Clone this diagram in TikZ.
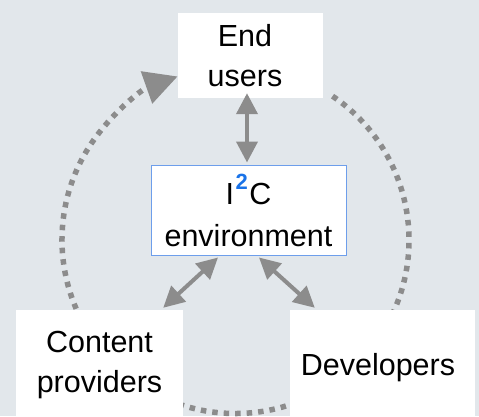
\documentclass[tikz,border=0pt]{standalone}
\usepackage{fontspec}
\setmainfont{Liberation Sans}
\usepackage{xcolor}
\usepackage{tikz}
\usetikzlibrary{arrows.meta}

\definecolor{bgslate}{HTML}{E2E7EB}
\definecolor{linkgray}{HTML}{8C8C8C}
\definecolor{envblue}{HTML}{6D9EEB}
\definecolor{supblue}{HTML}{1A73E8}
\newcommand{\rpad}[1]{\hbox to #1{}}

\tikzset{
    party/.style={fill=white, inner sep=0pt, align=center,
        font=\fontsize{30.5}{40}\selectfont},
    envbox/.style={party, draw=envblue, line width=1pt},
    biarrow/.style={draw=linkgray, line width=4pt,
        {Triangle[length=21pt,width=21pt]}-{Triangle[length=21pt,width=21pt]}},
    cycleline/.style={draw=linkgray, line width=5.5pt,
        dash pattern=on 5.5pt off 6pt, -{Triangle[length=33pt,width=33pt]}}
}

\begin{document}
\begin{tikzpicture}[x=1pt,y=1pt]
        % page and background
        \useasboundingbox (0,0) rectangle (479,416);
        \clip (0,0) rectangle (479,416);
        \fill[bgslate] (0,0) rectangle (479,416);

        % dotted cycle behind the boxes
        \coordinate (hub) at (235.5,176);
        \draw[cycleline] (hub) ++(56:173.5pt)
            arc[start angle=56, end angle=-250.5, radius=173.5pt];

        % the four boxes
        \node (eu) [party, minimum width=145pt, minimum height=85pt]
            at (250.5,360.5) {End\rpad{11pt}\\users\rpad{11pt}};
        \node (env) [envbox, minimum width=195pt, minimum height=90pt]
            at (248.5,206) {I\kern1.5pt\raisebox{15pt}{\fontsize{22}{22}\selectfont\bfseries\color{supblue}2}\kern1.5pt C\\[2pt]environment};
        \node (cp) [party, minimum width=167pt, minimum height=110.4pt]
            at (99.5,50.8) {Content\\providers};
        \node (dev) [party, minimum width=185pt, minimum height=114.4pt]
            at (382.5,48.8) {Developers\rpad{9pt}};

        % two-way links to the environment
        \draw[biarrow] ([xshift=-3.5pt,yshift=5pt]eu.south) -- ([xshift=-1.5pt,yshift=2pt]env.north);
        \draw[biarrow] ([xshift=-30.5pt,yshift=-2pt]env.south) -- ([xshift=-20pt,yshift=2pt]cp.north east);
        \draw[biarrow] ([xshift=10.5pt,yshift=-2pt]env.south) -- ([xshift=25pt,yshift=2pt]dev.north west);

    \end{tikzpicture}
\end{document}
